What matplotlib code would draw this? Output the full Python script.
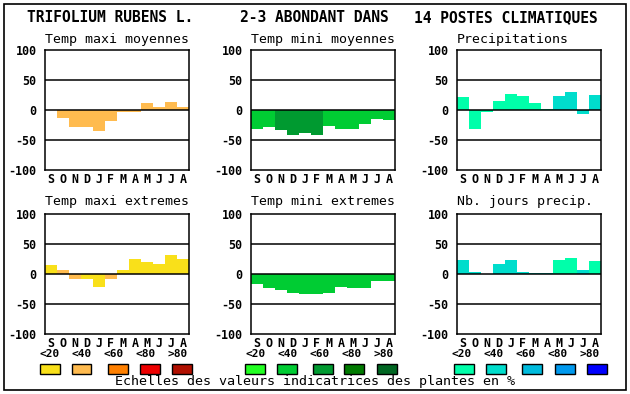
import numpy as np
import matplotlib.pyplot as plt
from matplotlib.patches import Rectangle

# months and colour scales
months = ['S', 'O', 'N', 'D', 'J', 'F', 'M', 'A', 'M', 'J', 'J', 'A']
classes = ['<20', '<40', '<60', '<80', '>80']
warm = ['#F9E01A', '#FFBB4F', '#FF8000', '#EE0000', '#B01000']
green = ['#22FF22', '#00CC33', '#009A30', '#007A00', '#006622']
blue = ['#00FFAA', '#00DDCC', '#00BBDD', '#0099EE', '#0000FF']

# values per panel and colour class index (0..4)
tmax_moy = [0, -13, -28, -28, -35, -18, -4, -4, 12, 5, 14, 5]
tmax_moy_cls = [1] * 12
tmin_moy = [-31, -28, -34, -41, -38, -41, -27, -31, -31, -23, -15, -16]
tmin_moy_cls = [1, 1, 2, 2, 2, 2, 1, 1, 1, 1, 1, 1]
precip = [22, -32, -3, 15, 27, 23, 12, 2, 23, 30, -6, 25]
precip_cls = [0, 0, 0, 0, 0, 0, 0, 0, 1, 1, 1, 1]
tmax_ext = [15, 7, -8, -8, -22, -8, 7, 25, 20, 17, 32, 25]
tmax_ext_cls = [0, 1, 1, 0, 0, 1, 0, 0, 0, 0, 0, 0]
tmin_ext = [-16, -23, -26, -31, -33, -34, -32, -21, -23, -23, -12, -11]
tmin_ext_cls = [1] * 12
jours = [24, 4, 0, 17, 24, 4, 2, 2, 24, 27, 7, 22]
jours_cls = [1, 1, 1, 1, 1, 1, 1, 1, 0, 0, 1, 0]

panels = [
    ("Temp maxi moyennes", tmax_moy, tmax_moy_cls, warm, 0, 0),
    ("Temp mini moyennes", tmin_moy, tmin_moy_cls, green, 0, 1),
    ("Precipitations", precip, precip_cls, blue, 0, 2),
    ("Temp maxi extremes", tmax_ext, tmax_ext_cls, warm, 1, 0),
    ("Temp mini extremes", tmin_ext, tmin_ext_cls, green, 1, 1),
    ("Nb. jours precip.", jours, jours_cls, blue, 1, 2),
]

W, H = 630, 394
fig = plt.figure(figsize=(6.3, 3.94), dpi=100)
mono = 'DejaVu Sans Mono'

def fx(x):
    return x / W

def fy(y):
    return 1 - y / H

col_left = [45, 251, 457]
row_top = [50, 214]
pw, ph = 144, 120

for title, vals, cls, pal, r, c in panels:
    left, top = col_left[c], row_top[r]
    ax = fig.add_axes([fx(left), fy(top + ph), pw / W, ph / H])
    x = np.arange(12)
    ax.bar(x, vals, width=1.0, color=[pal[k] for k in cls], zorder=2)
    for yv in (50, 0, -50):
        ax.axhline(yv, color='black', lw=1.1, zorder=3)
    ax.set_xlim(-0.5, 11.5)
    ax.set_ylim(-100, 100)
    ax.set_yticks([100, 50, 0, -50, -100])
    ax.set_yticklabels(['100', '50', '0', '-50', '-100'], fontfamily=mono,
                       fontweight='bold', fontsize=8.4)
    ax.set_xticks(x)
    ax.set_xticklabels(months, fontfamily=mono, fontweight='bold', fontsize=8.4)
    ax.tick_params(length=0, pad=2)
    ax.tick_params(axis='y', pad=6)
    for s in ax.spines.values():
        s.set_linewidth(1.1)
    fig.text(fx(left), fy(top - 11 if r == 0 else top - 13), title,
             fontfamily=mono, fontsize=9.5, ha='left', va='center')

# class labels under bottom row
for c in range(3):
    for k, lab in enumerate(classes):
        fig.text(fx(col_left[c] + 4.5 + 32 * k), fy(354), lab, fontfamily=mono,
                 fontweight='bold', fontsize=8, ha='center', va='center')

# legend boxes
box_x = [[39.5, 71.5, 107.5, 140, 172],
         [244.5, 277, 312.5, 344.5, 377],
         [453.5, 486, 522, 554.5, 587]]
for pal, xs in zip([warm, green, blue], box_x):
    for colr, bx in zip(pal, xs):
        fig.patches.append(Rectangle((fx(bx), fy(374)), 20 / W, 10 / H,
                                     transform=fig.transFigure, facecolor=colr,
                                     edgecolor='black', lw=1))

# header
fig.text(fx(27), fy(18), "TRIFOLIUM RUBENS L.", fontfamily=mono,
         fontweight='bold', fontsize=10.5, va='center')
fig.text(fx(240), fy(18), "2-3 ABONDANT DANS", fontfamily=mono,
         fontweight='bold', fontsize=10.5, va='center')
fig.text(fx(414), fy(18), "14 POSTES CLIMATIQUES", fontfamily=mono,
         fontweight='bold', fontsize=10.5, va='center')

fig.text(0.5, fy(382), "Echelles des valeurs indicatrices des plantes en %",
         fontfamily=mono, fontsize=9.6, ha='center', va='center')

# outer frame
fig.patches.append(Rectangle((fx(4), fy(390)), 622 / W, 386 / H,
                             transform=fig.transFigure, fill=False,
                             edgecolor='black', lw=1.2))

fig.savefig('out.png', dpi=100)
